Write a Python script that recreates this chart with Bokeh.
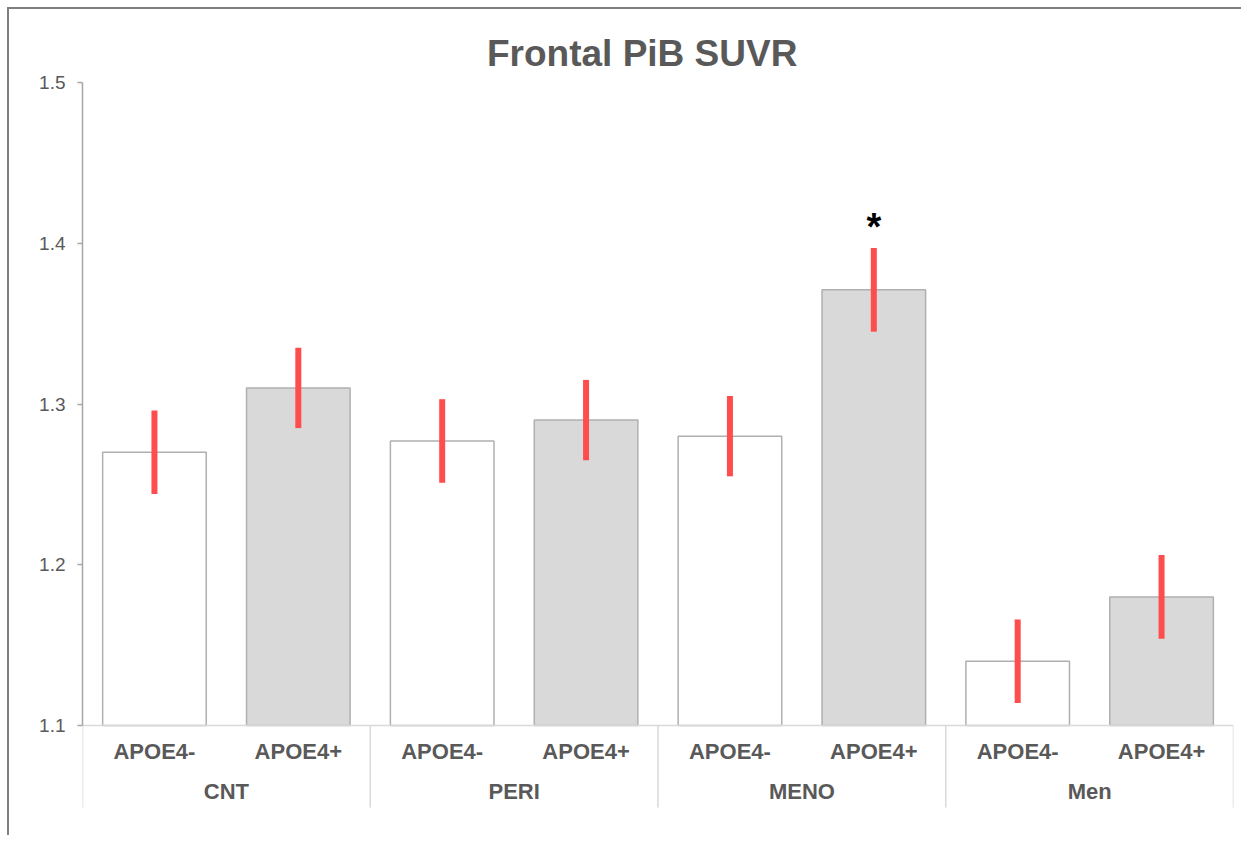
from bokeh.plotting import figure
from bokeh.models import ColumnDataSource, LinearAxis, FixedTicker, Range1d
from bokeh.embed import file_html
from bokeh.resources import INLINE
from bokeh.core.properties import value

groups = ["CNT", "PERI", "MENO", "Men"]
subgroups = ["APOE4-", "APOE4+"]
means = [1.270, 1.310, 1.277, 1.290, 1.280, 1.371, 1.140, 1.180]
errors = [0.026, 0.025, 0.026, 0.025, 0.025, 0.026, 0.026, 0.026]
signif = ["", "", "", "", "", "*", "", ""]
y_ticks = [1.1, 1.2, 1.3, 1.4, 1.5]
title_text = "Frontal PiB SUVR"

TEXT = "#595959"
FONT = "Liberation Sans"
base = y_ticks[0]
px_per_unit = 1607.5

n = len(means)
xs = [i + 0.5 for i in range(n)]
fills = ["#ffffff" if i % 2 == 0 else "#d9d9d9" for i in range(n)]
sub_labels = [subgroups[i % 2] for i in range(n)]

src = ColumnDataSource(dict(
    x=xs, top=means, bottom=[base] * n, fill=fills,
    lo=[m - e for m, e in zip(means, errors)],
    hi=[m + e for m, e in zip(means, errors)],
    sig=signif, sub=sub_labels,
    suby=[base - 26 / px_per_unit] * n,
))

y_lo = base - 87 / px_per_unit
y_hi = y_ticks[-1] + 52 / px_per_unit

p = figure(width=1234, height=828, output_backend="svg", toolbar_location=None,
           x_range=Range1d(0, n), y_range=Range1d(y_lo, y_hi),
           x_axis_type=None, y_axis_type=None,
           min_border_left=73, min_border_right=10, min_border_top=21, min_border_bottom=25)
p.grid.visible = False
p.outline_line_color = None
p.background_fill_color = "white"
p.border_fill_color = "white"
p.styles = {"border-left": "2px solid #7f7f7f", "border-top": "2px solid #7f7f7f",
            "margin-left": "7px", "margin-top": "7px"}

yaxis = LinearAxis(bounds=(y_ticks[0], y_ticks[-1]), ticker=FixedTicker(ticks=y_ticks))
yaxis.axis_line_color = "#a6a6a6"
yaxis.axis_line_width = 1.5
yaxis.major_tick_line_color = "#a6a6a6"
yaxis.major_tick_line_width = 1.5
yaxis.major_tick_out = 5
yaxis.major_tick_in = 0
yaxis.minor_tick_line_color = None
yaxis.major_label_text_font = FONT
yaxis.major_label_text_font_size = "19px"
yaxis.major_label_text_color = TEXT
yaxis.major_label_standoff = 12
p.add_layout(yaxis, "left")

# bars
p.vbar(x="x", top="top", bottom="bottom", width=0.72, source=src,
       fill_color="fill", line_color="#b0b0b0", line_width=1.5)
# error bars
p.segment(x0="x", x1="x", y0="lo", y1="hi", source=src,
          line_color="#ff4d4d", line_width=6)
# significance
p.text(x="x", y="hi", text="sig", source=src, text_align="center",
       text_baseline="bottom", y_offset=0, text_font=value(FONT),
       text_font_style="bold", text_font_size="38px", text_color="black")

# category axis line and separators
p.segment(x0=[0], x1=[n], y0=[base], y1=[base], line_color="#d9d9d9", line_width=1.5)
seps = [2 * g for g in range(len(groups) + 1)]
sep_bottom = base - 82 / px_per_unit
p.segment(x0=seps, x1=seps, y0=[base] * len(seps), y1=[sep_bottom] * len(seps),
          line_color="#d9d9d9", line_width=1.5)

# subgroup labels
p.text(x="x", y="suby", text="sub", source=src,
       text_align="center", text_baseline="middle", text_font=value(FONT),
       text_font_style="bold", text_font_size="22px", text_color=TEXT)
# group labels
gx = [2 * g + 1 for g in range(len(groups))]
p.text(x=gx, y=[base - 66 / px_per_unit] * len(groups), text=groups,
       text_align="center", text_baseline="middle", text_font=value(FONT),
       text_font_style="bold", text_font_size="22px", text_color=TEXT)

# title
p.text(x=[n / 2 - 0.11], y=[base + (725 - 53) / px_per_unit], text=[title_text],
       text_align="center", text_baseline="middle", text_font=value(FONT),
       text_font_style="bold", text_font_size="37px", text_color=TEXT)

open("out.html", "w").write(file_html(p, INLINE))
